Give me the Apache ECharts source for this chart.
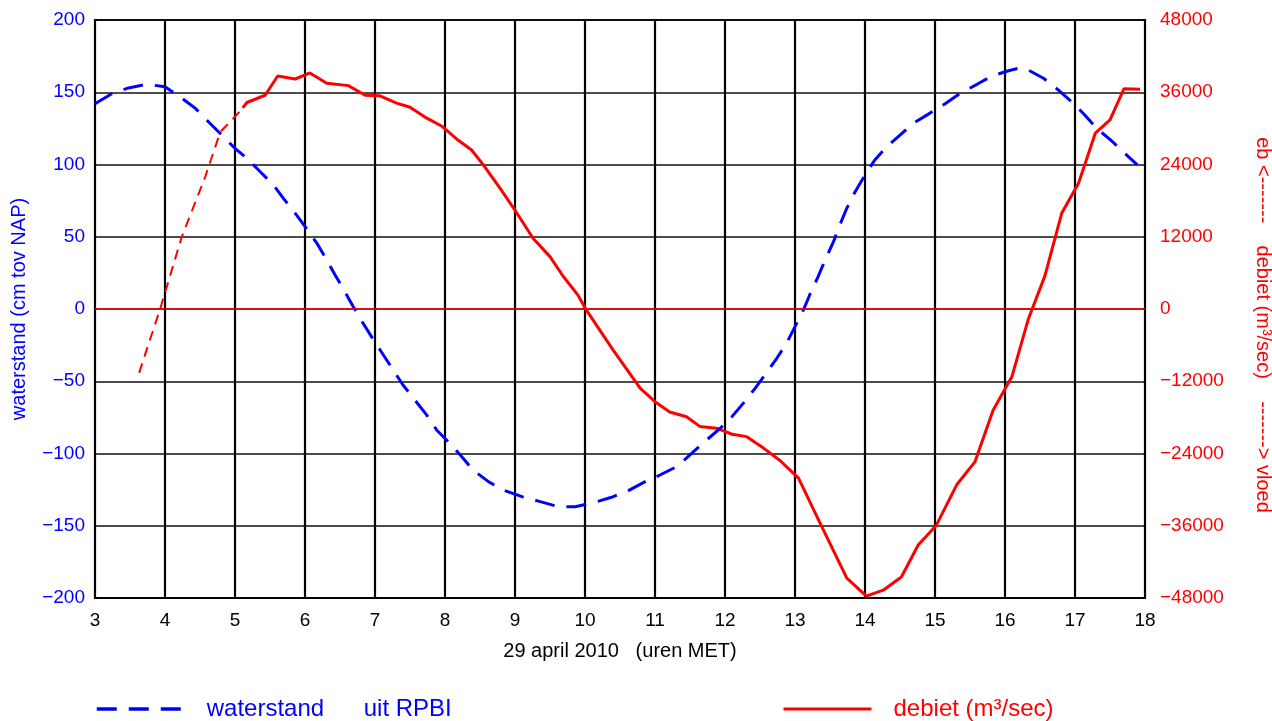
<!DOCTYPE html>
<html>
<head>
<meta charset="utf-8">
<script src="https://cdn.jsdelivr.net/npm/echarts@6/dist/echarts.min.js"></script>
<style>
  html, body { margin: 0; padding: 0; background: #fff; }
  #main { width: 1272px; height: 721px; }
</style>
</head>
<body>
<div id="main"></div>
<script>
// waterstand (cm tov NAP), uren MET
const wsHour = [3.0, 3.24, 3.48, 3.74, 4.0, 4.21, 4.43, 4.62, 4.81, 5.0, 5.17, 5.36, 5.55, 5.71, 5.88, 6.02, 6.17, 6.31, 6.43, 6.5,
  6.69, 6.83, 6.98, 7.12, 7.26, 7.4, 7.57, 7.74, 7.88, 8.07, 8.24, 8.4, 8.62, 8.83, 9.1, 9.36, 9.62, 9.86, 10.12, 10.38,
  10.62, 10.86, 11.07, 11.31, 11.5, 11.71, 11.93, 12.1, 12.26, 12.43, 12.57, 12.74, 12.88, 13.0, 13.12, 13.21, 13.33, 13.43,
  13.55, 13.64, 13.74, 13.86, 14.0, 14.14, 14.31, 14.5, 14.69, 14.9, 15.14, 15.36, 15.6, 15.81, 16.05, 16.19, 16.33, 16.55,
  16.76, 16.95, 17.14, 17.31, 17.52, 17.71, 17.89]
const wsValue = [142, 149, 153, 155.5, 153.8, 147, 139, 129.6, 120.4, 111.2, 104.3, 95, 85.8, 75.4, 65, 55.8, 45.5, 33.9, 23.5, 17.8,
  1.6, -9.9, -21.5, -31.8, -42.2, -52.6, -63, -73.4, -83.7, -93, -102.2, -111.4, -119.5, -125.3, -129.9, -133.3, -136.8, -136.8, -134, -130.3,
  -125.7, -119.5, -114.9, -109.1, -101, -91.8, -82.6, -74.5, -65.3, -54.9, -45.7, -34.1, -23.7, -12.2, -0.7, 9.7, 22.4, 33.9,
  46.6, 58.1, 69.7, 81.2, 92.7, 103.1, 112.3, 120.4, 128.5, 134.7, 141.9, 149.3, 155.5, 161.2, 164.9, 166.6, 165.4, 159.7,
  151.6, 143.5, 134.3, 125, 116.5, 107.7, 99.7]

// debiet (m3/sec), eerste stuk gestippeld
const qDashHour = [3.63, 3.93, 4.24, 4.57, 4.79, 5.02, 5.11]
const qDashValue = [-10600, 0, 12000, 21800, 29400, 32200, 33400]

const qHour = [5.11, 5.17, 5.43, 5.61, 5.86, 6.07, 6.31, 6.62, 6.86, 7.07, 7.31, 7.5, 7.74, 7.95, 8.17, 8.38, 8.55, 8.79, 9.0,
  9.26, 9.5, 9.69, 9.9, 10.02, 10.4, 10.79, 11.0, 11.21, 11.45, 11.64, 11.88, 12.1, 12.31, 12.55, 12.79, 13.05, 13.36, 13.74,
  14.02, 14.26, 14.52, 14.76, 15.02, 15.31, 15.57, 15.83, 16.1, 16.33, 16.57, 16.81, 17.05, 17.29, 17.5, 17.7, 17.93]
const qValue = [33400, 34300, 35500, 38700, 38200, 39200, 37500, 37100, 35500, 35400, 34200, 33500, 31700, 30400, 28200, 26400, 23900, 20000, 16400,
  11700, 8700, 5400, 2300, -200, -6800, -13200, -15400, -17100, -17900, -19500, -19800, -20800, -21200, -23100, -25200, -28100, -35600, -44700,
  -47700, -46700, -44500, -39200, -35900, -29200, -25400, -16800, -11200, -1800, 5500, 15900, 20900, 29200, 31400, 36600, 36500]

const pairs = (xs, ys) => xs.map((x, i) => [x, ys[i]])
const minus = v => String(v).replace('-', '\u2212')

const BLUE = '#0000ff'
const RED = '#ff0000'
const FONT = 'Liberation Sans, Arial, sans-serif'

let myChart = echarts.init(document.getElementById('main'))
myChart.setOption({
  animation: false,
  textStyle: { fontFamily: FONT },
  grid: {
    left: 95, right: 127, top: 20, bottom: 123,
    outerBoundsMode: 'none',
    containLabel: false,
    show: true, borderColor: '#000', borderWidth: 2
  },
  legend: [
    {
      data: ['waterstand'],
      left: 95, top: 697, padding: 0,
      itemWidth: 90, itemHeight: 24,
      itemStyle: { opacity: 0 },
      lineStyle: { width: 3.5 },
      formatter: () => '{a|waterstand}{b|uit RPBI}',
      textStyle: {
        color: BLUE, fontSize: 24, fontFamily: FONT, padding: [0, 0, 0, 15],
        rich: {
          a: { color: BLUE, fontSize: 24, fontFamily: FONT, width: 157 },
          b: { color: BLUE, fontSize: 24, fontFamily: FONT }
        }
      }
    },
    {
      data: ['debiet (m³/sec)'],
      left: 782, top: 697, padding: 0,
      itemWidth: 88, itemHeight: 24,
      itemStyle: { opacity: 0 },
      lineStyle: { width: 3 },
      textStyle: { color: RED, fontSize: 24, fontFamily: FONT, padding: [0, 0, 0, 17] }
    }
  ],
  xAxis: {
    type: 'value',
    min: 3, max: 18, interval: 1,
    name: '29 april 2010   (uren MET)',
    nameLocation: 'middle',
    nameGap: 43,
    nameTextStyle: { color: '#000', fontSize: 20, fontFamily: FONT },
    axisLine: { onZero: false, lineStyle: { color: '#000', width: 2 } },
    axisTick: { show: false },
    axisLabel: { color: '#000', fontSize: 19, margin: 13, fontFamily: FONT },
    splitLine: { show: true, lineStyle: { color: '#000', width: 2.2 } }
  },
  yAxis: [
    {
      type: 'value',
      min: -200, max: 200, interval: 50,
      name: 'waterstand (cm tov NAP)',
      nameLocation: 'middle',
      nameGap: 66,
      nameTextStyle: { color: BLUE, fontSize: 20, fontFamily: FONT },
      axisLine: { show: true, onZero: false, lineStyle: { color: '#000', width: 2 } },
      axisTick: { show: false },
      axisLabel: { color: BLUE, fontSize: 19, margin: 10, fontFamily: FONT, formatter: minus },
      splitLine: { show: true, lineStyle: { color: '#111', width: 1.5 } }
    },
    {
      type: 'value',
      min: -48000, max: 48000, interval: 12000,
      name: 'eb <-------    debiet (m³/sec)    -------> vloed',
      nameLocation: 'middle',
      nameRotate: -90,
      nameGap: 108,
      nameTextStyle: { color: RED, fontSize: 20, fontFamily: FONT, padding: [0, 0, 0, 32] },
      axisLine: { show: true, onZero: false, lineStyle: { color: '#000', width: 2 } },
      axisTick: { show: false },
      axisLabel: { color: RED, fontSize: 19, margin: 15, fontFamily: FONT, formatter: minus },
      splitLine: { show: false }
    }
  ],
  series: [
    {
      name: 'waterstand',
      type: 'line',
      yAxisIndex: 0,
      data: pairs(wsHour, wsValue),
      symbol: 'none',
      z: 4,
      lineStyle: { color: BLUE, width: 3, type: [20, 12] },
      itemStyle: { color: BLUE }
    },
    {
      name: 'debiet gestippeld',
      type: 'line',
      yAxisIndex: 1,
      data: pairs(qDashHour, qDashValue),
      symbol: 'none',
      z: 3,
      lineStyle: { color: RED, width: 2, type: [10, 7] },
      itemStyle: { color: RED },
      // rode nullijn over de zwarte rasterlijn
      markLine: {
        silent: true,
        symbol: 'none',
        label: { show: false },
        lineStyle: { color: RED, width: 1.6, type: 'solid' },
        data: [{ yAxis: 0 }]
      }
    },
    {
      name: 'debiet (m³/sec)',
      type: 'line',
      yAxisIndex: 1,
      data: pairs(qHour, qValue),
      symbol: 'none',
      z: 3,
      lineStyle: { color: RED, width: 3 },
      itemStyle: { color: RED }
    }
  ]
})
</script>
</body>
</html>
